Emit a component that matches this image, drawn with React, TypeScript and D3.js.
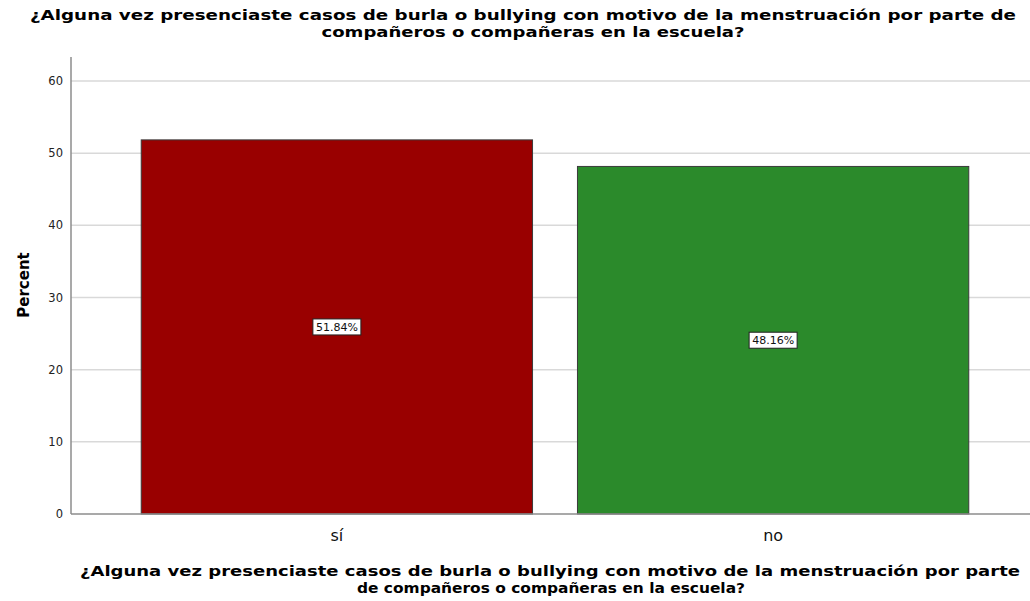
import { useEffect, useRef } from "react";
import * as d3 from "d3";

const categories = ["sí", "no"];
const percents = [51.84, 48.16];
const barColors = ["#990000", "#2b8a2b"];
const yTicks = [0, 10, 20, 30, 40, 50, 60];
const titleLines = [
  "¿Alguna vez presenciaste casos de burla o bullying con motivo de la menstruación por parte de",
  "compañeros o compañeras en la escuela?",
];
const xTitleLines = [
  "¿Alguna vez presenciaste casos de burla o bullying con motivo de la menstruación por parte",
  "de compañeros o compañeras en la escuela?",
];

const W = 1030;
const H = 601;
const titleFont = "'DejaVu Sans', sans-serif";

const App = () => {
  const svgRef = useRef<SVGSVGElement | null>(null);

  useEffect(() => {
    if (!svgRef.current) return;
    const svg = d3.select(svgRef.current);
    svg.selectAll("*").remove();

    const x = d3
      .scaleBand<string>()
      .domain(categories)
      .range([71, 1039])
      .paddingInner(0.103)
      .paddingOuter(0.161);
    const y = d3.scaleLinear().domain([0, 60]).range([514, 81]);

    // titles (two lines each, squeezed to the reference width)
    const addTitle = (lines: string[], cx: number[], ys: number[], lens: number[]) => {
      const g = svg
        .append("g")
        .attr("font-family", titleFont)
        .attr("font-weight", "bold")
        .attr("fill", "#000");
      lines.forEach((t, i) => {
        g.append("text")
          .attr("x", cx[i])
          .attr("y", ys[i])
          .attr("text-anchor", "middle")
          .attr("font-size", 13.8)
          .attr("textLength", lens[i])
          .attr("lengthAdjust", "spacingAndGlyphs")
          .text(t);
      });
    };
    addTitle(titleLines, [523, 533], [20, 36.5], [986, 423]);

    // gridlines
    svg
      .append("g")
      .selectAll("line")
      .data(yTicks.slice(1))
      .join("line")
      .attr("x1", 71)
      .attr("x2", W)
      .attr("y1", (d) => y(d))
      .attr("y2", (d) => y(d))
      .attr("stroke", "#d9d9d9")
      .attr("stroke-width", 1.5);

    // y tick labels
    svg
      .append("g")
      .selectAll("text")
      .data(yTicks)
      .join("text")
      .attr("x", 63)
      .attr("y", (d) => y(d))
      .attr("dy", "0.35em")
      .attr("text-anchor", "end")
      .attr("font-family", "'DejaVu Sans', sans-serif")
      .attr("font-size", 11.5)
      .attr("fill", "#222")
      .text((d) => d);

    // bars
    svg
      .append("g")
      .selectAll("rect")
      .data(percents)
      .join("rect")
      .attr("x", (_, i) => x(categories[i])!)
      .attr("y", (d) => y(d))
      .attr("width", x.bandwidth())
      .attr("height", (d) => y(0) - y(d))
      .attr("fill", (_, i) => barColors[i])
      .attr("stroke", "#3a3a3a")
      .attr("stroke-width", 1);

    // axes lines
    svg
      .append("line")
      .attr("x1", 71)
      .attr("x2", 71)
      .attr("y1", 57)
      .attr("y2", y(0))
      .attr("stroke", "#8c8c8c")
      .attr("stroke-width", 1.5);
    svg
      .append("line")
      .attr("x1", 71)
      .attr("x2", W)
      .attr("y1", y(0))
      .attr("y2", y(0))
      .attr("stroke", "#8c8c8c")
      .attr("stroke-width", 1.5);

    // value labels
    const labels = svg
      .append("g")
      .selectAll("g")
      .data(percents)
      .join("g")
      .attr("transform", (d, i) => `translate(${x(categories[i])! + x.bandwidth() / 2},${y(d / 2)})`);
    labels
      .append("rect")
      .attr("x", -24)
      .attr("y", -8)
      .attr("width", 48)
      .attr("height", 16)
      .attr("fill", "#fff")
      .attr("stroke", "#222")
      .attr("stroke-width", 1);
    labels
      .append("text")
      .attr("text-anchor", "middle")
      .attr("dy", "0.35em")
      .attr("font-family", "'DejaVu Sans', sans-serif")
      .attr("font-size", 11)
      .attr("fill", "#111")
      .text((d) => `${d.toFixed(2)}%`);

    // category labels
    svg
      .append("g")
      .selectAll("text")
      .data(categories)
      .join("text")
      .attr("x", (d) => x(d)! + x.bandwidth() / 2)
      .attr("y", 541)
      .attr("text-anchor", "middle")
      .attr("font-family", "'DejaVu Sans', sans-serif")
      .attr("font-size", 16)
      .attr("fill", "#111")
      .text((d) => d);

    // y axis title
    svg
      .append("text")
      .attr("transform", "translate(29,285) rotate(-90)")
      .attr("text-anchor", "middle")
      .attr("font-family", "'DejaVu Sans', sans-serif")
      .attr("font-weight", "bold")
      .attr("font-size", 15)
      .text("Percent");

    // x axis title
    addTitle(xTitleLines, [550, 551], [576, 592.5], [940, 388]);
  }, []);

  return (
    <div style={{ position: "absolute", left: 0, top: 0, width: W, height: H, background: "#fff" }}>
      <svg ref={svgRef} width={W} height={H} viewBox={`0 0 ${W} ${H}`} style={{ display: "block" }} />
    </div>
  );
};

export default App;
